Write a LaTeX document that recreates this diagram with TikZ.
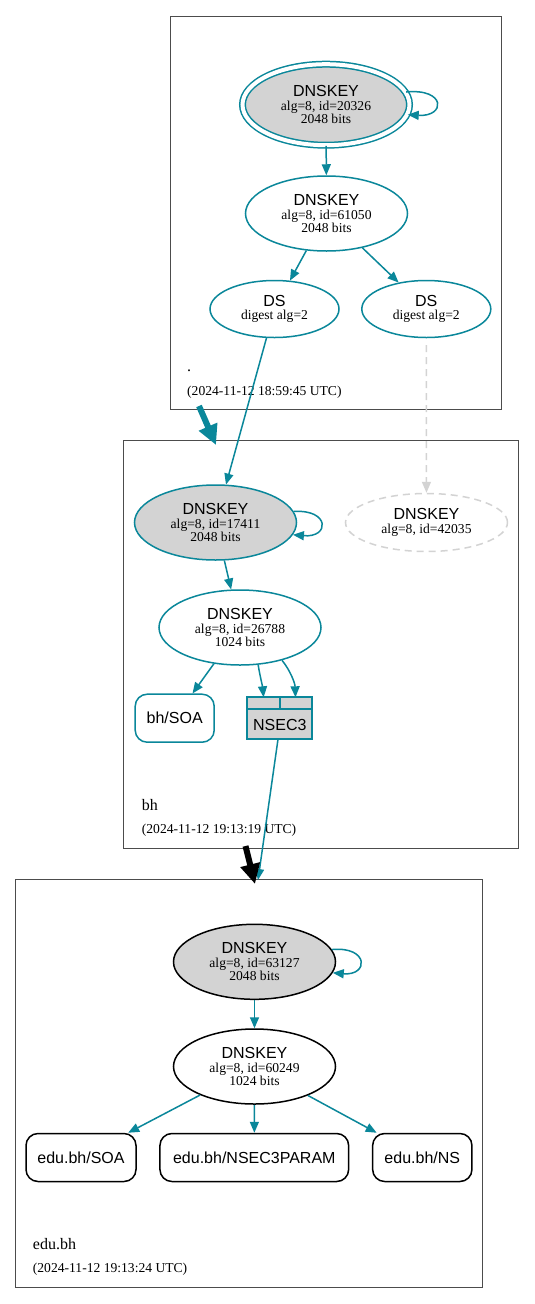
\documentclass[tikz,border=0pt]{standalone}
\usepackage{fontspec}
\setmainfont{Liberation Serif}
\setsansfont{Liberation Sans}
\usetikzlibrary{arrows.meta,shapes.geometric}
\definecolor{tl}{HTML}{0A879A}
\definecolor{lg}{HTML}{D3D3D3}
\newcommand{\smf}{\fontsize{13.6}{11.6}\selectfont}
\newcommand{\bgf}{\sffamily\fontsize{16}{16}\selectfont}
\newcommand{\keytxt}[3]{{\bgf #1}\\[2pt]#2\\#3}
\tikzset{
  key/.style={ellipse, draw=tl, line width=1.5pt, minimum width=162pt, minimum height=75pt, inner sep=0pt, align=center, font=\smf},
  ksk/.style={key, fill=lg},
  dsnode/.style={ellipse, draw=tl, line width=1.5pt, minimum width=129pt, minimum height=57pt, inner sep=0pt, align=center, font=\smf},
  rr/.style={rectangle, rounded corners=12pt, draw=tl, line width=1.5pt, minimum height=48pt, inner sep=0pt, font=\bgf},
  edge/.style={draw=tl, line width=1.5pt, -{Triangle[length=11pt,width=9pt]}},
  zoneedge/.style={line width=6pt, -{Triangle[length=20pt,width=19pt]}},
  cluster/.style={draw=black!70, line width=0.8pt},
  zl/.style={anchor=base west, font=\fontsize{16}{16}\selectfont, inner sep=0pt},
  ts/.style={anchor=base west, font=\smf, inner sep=0pt},
}
\begin{document}
\begin{tikzpicture}[x=1pt,y=-1pt]
\useasboundingbox (0,0) rectangle (535,1304);
\fill[white] (0,0) rectangle (535,1304);
% clusters
\draw[cluster] (170,16) rectangle (501,409);
\draw[cluster] (123.5,440) rectangle (518,848);
\draw[cluster] (15.7,879.3) rectangle (482.7,1287.3);

% root zone
\node[ksk, double=white, double distance=4pt, minimum width=167pt, minimum height=81pt] (k1) at (326,104.7) {\keytxt{DNSKEY}{alg=8, id=20326}{2048 bits}};
\node[key] (k2) at (326.5,213.5) {\keytxt{DNSKEY}{alg=8, id=61050}{2048 bits}};
\node[dsnode] (dsl) at (274.5,309) {{\bgf DS}\\[2pt]digest alg=2};
\node[dsnode] (dsr) at (426.3,309) {{\bgf DS}\\[2pt]digest alg=2};
\node[zl] (zr) at (187,371) {.};
\node[ts] (tr) at (187,395) {(2024-11-12 18:59:45 UTC)};

% bh zone
\node[ksk] (b1) at (215.5,522.5) {\keytxt{DNSKEY}{alg=8, id=17411}{2048 bits}};
\node[ellipse, draw=lg, dashed, dash pattern=on 7pt off 5pt, line width=1.5pt, minimum width=162pt, minimum height=58pt, inner sep=0pt, align=center, font=\smf] (bx) at (426.5,522.5) {{\bgf DNSKEY}\\[2pt]alg=8, id=42035};
\node[key] (b2) at (240,627.5) {\keytxt{DNSKEY}{alg=8, id=26788}{1024 bits}};
\node[rr, minimum width=79pt] (bsoa) at (174.7,718.2) {bh/SOA};
\node[rectangle, draw=tl, fill=lg, line width=1.9pt, minimum width=65pt, minimum height=41.7pt, inner sep=0pt] (n3) at (279.8,718.2) {};
\draw[tl, line width=1.9pt] (n3.west |- 0,709.3) -- (n3.east |- 0,709.3);
\draw[tl, line width=1.9pt] (280,697.3) -- (280,709.3);
\node[font=\bgf, inner sep=0pt] (n3t) at (279.8,724.5) {NSEC3};
\coordinate (c1) at (263.6,697.3);
\coordinate (c2) at (295.5,697.3);
\node[zl] (zb) at (141.7,810) {bh};
\node[ts] (tb) at (141.7,833) {(2024-11-12 19:13:19 UTC)};

% edu.bh zone
\node[ksk, draw=black] (e1) at (254.5,961.8) {\keytxt{DNSKEY}{alg=8, id=63127}{2048 bits}};
\node[key, draw=black] (e2) at (254.5,1066.5) {\keytxt{DNSKEY}{alg=8, id=60249}{1024 bits}};
\node[rr, draw=black, minimum width=110pt] (esoa) at (81,1157.5) {edu.bh/SOA};
\node[rr, draw=black, minimum width=188.7pt] (epar) at (254.3,1157.5) {edu.bh/NSEC3PARAM};
\node[rr, draw=black, minimum width=99.3pt] (ens) at (422.3,1157.5) {edu.bh/NS};
\node[zl] (ze) at (32.7,1249) {edu.bh};
\node[ts] (te) at (32.7,1272) {(2024-11-12 19:13:24 UTC)};

% coordinates for zone edges
\coordinate (z1s) at (199,406);
\coordinate (z1e) at (216,445);
\coordinate (z2s) at (245.5,846);
\coordinate (z2e) at (255,884);
\coordinate (etop) at (258,880);

% edges root
\draw[edge] (k1.9) .. controls (446,88) and (446,117) .. (k1.-7);
\draw[edge] (k1) -- (k2);
\draw[edge] (k2) -- (dsl);
\draw[edge] (k2) -- (dsr);
\draw[edge] (dsl) -- (b1);
\draw[draw=lg, line width=1.5pt, dashed, dash pattern=on 7pt off 5pt, -{Triangle[length=11pt,width=9pt]}] (dsr.south |- 0,345) -- (bx);
\draw[zoneedge, tl] (z1s) -- (z1e);

% edges bh
\draw[edge] (b1.8) .. controls (330,509) and (330,538) .. (b1.-9);
\draw[edge] (b1) -- (b2);
\draw[edge] (b2) -- (bsoa);
\draw[edge] (b2.-64.6) .. controls (259.5,674) and (262.5,686) .. (c1);
\draw[edge] (b2.-38.6) .. controls (290,670) and (295,683) .. (c2);
\draw[edge] (n3.-95) -- (etop);
\draw[zoneedge, black] (z2s) -- (z2e);

% edges edu.bh
\draw[edge] (e1.9) .. controls (369,946) and (369,976) .. (e1.-8);
\draw[edge] (e1) -- (e2);
\draw[edge] (e2) -- (esoa);
\draw[edge] (e2) -- (epar);
\draw[edge] (e2) -- (ens);
\end{tikzpicture}
\end{document}
